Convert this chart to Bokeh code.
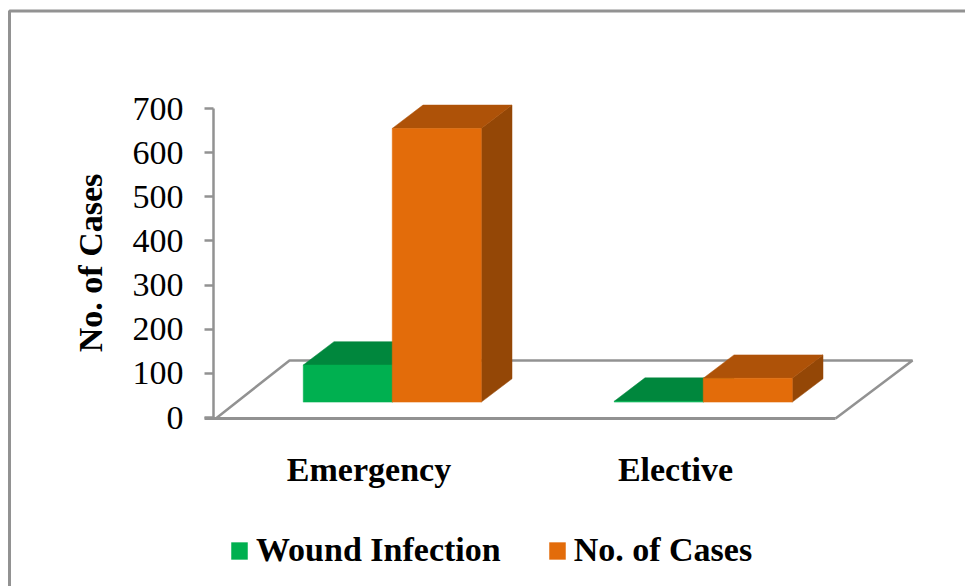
from bokeh.plotting import figure
from bokeh.models import LinearAxis, FixedTicker, Legend, LegendItem
from bokeh.embed import file_html
from bokeh.resources import INLINE

categories = ["Emergency", "Elective"]
wound_infection = [84, 2]
no_of_cases = [620, 54]
y_ticks = [0, 100, 200, 300, 400, 500, 600, 700]

W, H = 965, 586
PX_CAT = 311.0          # pixels per category
PX_VAL = 309.0 / 700    # pixels per case
X0_PX, Y0_PX = 216.0, 417.0   # page position of the chart origin
FONT = "Liberation Serif"
GREY = "#929292"

def cx(px):
    return (px - X0_PX) / PX_CAT

def vy(py):
    return (Y0_PX - py) / PX_VAL

DX = 75.0 / PX_CAT   # depth shift of the floor in category units
DY = 57.0 / PX_VAL   # depth shift of the floor in value units
D_FRONT, D_BACK = 0.27, 0.68
BAR_W = 89.0 / PX_CAT

p = figure(width=W, height=H, output_backend="svg", toolbar_location=None,
           x_axis_type=None, y_axis_type=None,
           x_range=(cx(0), cx(W)), y_range=(vy(H), vy(0)),
           min_border=0, min_border_left=0, min_border_right=0,
           min_border_top=0, min_border_bottom=0,
           outline_line_color=None, background_fill_color="white",
           border_fill_color="white")
p.grid.visible = False

# outer frame
p.line([cx(9), cx(9), cx(970)], [vy(600), vy(10.5), vy(10.5)],
       line_color=GREY, line_width=3)

# floor
p.line([cx(216), cx(289), cx(912), cx(835)], [vy(417.5), vy(360), vy(360), vy(418)],
       line_color=GREY, line_width=2.5)
p.line([cx(204), cx(835)], [vy(418), vy(418)], line_color=GREY, line_width=3)


def bar(i, offset, val, front, top, side):
    xl = i + 0.5 + offset * BAR_W + D_FRONT * DX
    xr = xl + BAR_W
    y0 = D_FRONT * DY
    y1 = y0 + val
    ddx = (D_BACK - D_FRONT) * DX
    ddy = (D_BACK - D_FRONT) * DY
    p.patch([xr, xr + ddx, xr + ddx, xr], [y0, y0 + ddy, y1 + ddy, y1], fill_color=side, line_color=side, line_width=0.5)
    p.patch([xl, xr, xr + ddx, xl + ddx], [y1, y1, y1 + ddy, y1 + ddy], fill_color=top, line_color=top, line_width=0.5)
    return p.quad(left=[xl], right=[xr], bottom=[y0], top=[y1], fill_color=front, line_color=front, line_width=0.5)


green_r = None
for i, v in enumerate(wound_infection):
    r = bar(i, -1, v, "#00B050", "#00873D", "#006B30")
    green_r = green_r or r
orange_r = None
for i, v in enumerate(no_of_cases):
    r = bar(i, 0, v, "#E36C0A", "#AE5208", "#944706")
    orange_r = orange_r or r

# value axis
yax = LinearAxis(fixed_location=cx(213), bounds=(0, 700),
                 ticker=FixedTicker(ticks=y_ticks),
                 axis_label="No. of Cases",
                 axis_label_text_font=FONT, axis_label_text_font_style="bold",
                 axis_label_text_font_size="34px", axis_label_text_color="black",
                 axis_label_standoff=21,
                 major_label_text_font=FONT, major_label_text_font_size="34px",
                 major_label_text_color="black", major_label_standoff=21,
                 major_tick_in=0, major_tick_out=9, minor_tick_in=0, minor_tick_out=0,
                 major_tick_line_color=GREY, major_tick_line_width=2.5,
                 axis_line_color=GREY, axis_line_width=2.5)
p.add_layout(yax, "left")

# category axis
cat_ticks = [cx(368.5), cx(675)]
xax = LinearAxis(fixed_location=0, ticker=FixedTicker(ticks=cat_ticks),
                 major_label_overrides=dict(zip(cat_ticks, categories)),
                 major_label_text_font=FONT, major_label_text_font_style="bold",
                 major_label_text_font_size="34px", major_label_text_color="black",
                 major_label_standoff=33,
                 major_tick_in=0, major_tick_out=0, minor_tick_in=0, minor_tick_out=0,
                 axis_line_color=None)
p.add_layout(xax, "below")

legend = Legend(items=[LegendItem(label="Wound Infection", renderers=[green_r]),
                       LegendItem(label="No. of Cases", renderers=[orange_r])],
                orientation="horizontal", location=(229, 17),
                glyph_width=20, glyph_height=21, label_standoff=7, spacing=46,
                padding=0, margin=0, border_line_color=None, background_fill_alpha=0,
                label_text_font=FONT, label_text_font_style="bold",
                label_text_font_size="34px", label_text_color="black",
                label_height=30)
p.add_layout(legend, "center")

open("out.html", "w").write(file_html(p, INLINE))
